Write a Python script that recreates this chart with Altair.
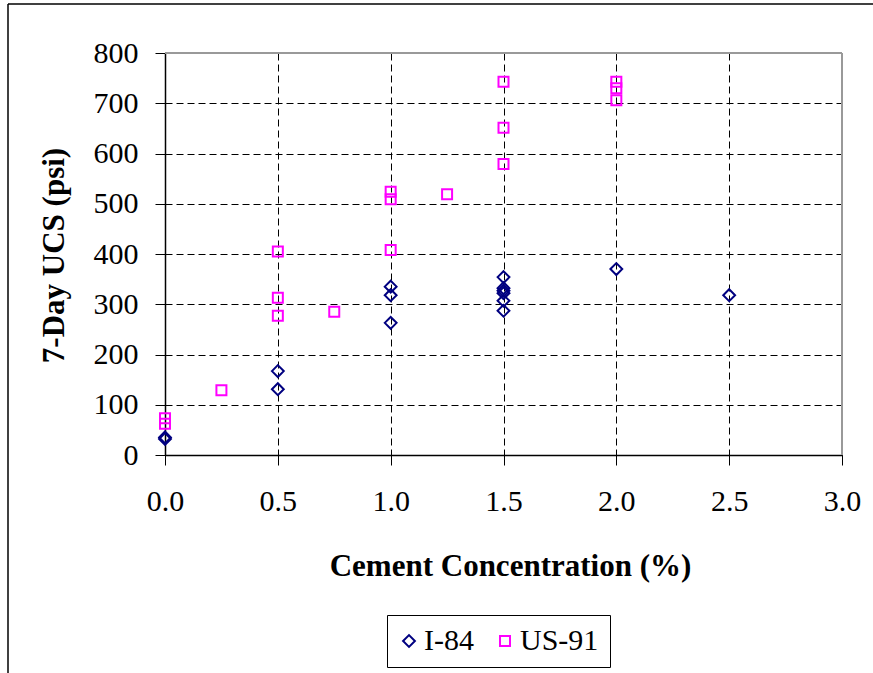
import altair as alt
import pandas as pd

# ---- data ----
i84_x = [0.0, 0.0, 0.5, 0.5, 1.0, 1.0, 1.0, 1.5, 1.5, 1.5, 1.5, 1.5, 1.5, 2.0, 2.5]
i84_y = [35, 32, 167, 131, 335, 318, 263, 354, 332, 327, 322, 307, 287, 370, 318]
us91_x = [0.0, 0.0, 0.25, 0.5, 0.5, 0.5, 0.75, 1.0, 1.0, 1.0, 1.25, 1.5, 1.5, 1.5, 2.0, 2.0, 2.0]
us91_y = [73, 62, 129, 405, 313, 277, 285, 524, 509, 408, 519, 743, 651, 579, 743, 730, 706]
series = ["I-84", "US-91"]
x_ticks = [0.0, 0.5, 1.0, 1.5, 2.0, 2.5, 3.0]
y_ticks = [0, 100, 200, 300, 400, 500, 600, 700, 800]

df = pd.concat([
    pd.DataFrame({"cement": i84_x, "ucs": i84_y, "site": series[0]}),
    pd.DataFrame({"cement": us91_x, "ucs": us91_y, "site": series[1]}),
])

W, H = 677, 402
FONT = "Liberation Serif"

leg = dict(title=None, orient="none", legendX=222, legendY=562,
           direction="horizontal", strokeColor="black", fillColor="white",
           padding=11, symbolOffset=-4, labelOffset=0, columnPadding=20,
           symbolStrokeWidth=2, symbolSize=90)

points = alt.Chart(df).mark_point(filled=False, strokeWidth=2, opacity=1).encode(
    x=alt.X("cement:Q",
            scale=alt.Scale(domain=[0, 3], nice=False, zero=False),
            axis=alt.Axis(values=x_ticks, format=".1f", title="Cement Concentration (%)",
                          titleX=345, titleY=120, titleAlign="center", titleBaseline="alphabetic",
                          labelPadding=21, tickSize=10, labelFlush=False)),
    y=alt.Y("ucs:Q",
            scale=alt.Scale(domain=[0, 800], nice=False),
            axis=alt.Axis(values=y_ticks, format="d", title="7-Day UCS (psi)",
                          titleX=-102, titleY=202, titleAngle=-90, titleAlign="center",
                          titleBaseline="alphabetic", labelPadding=17, tickSize=10,
                          labelFlush=False)),
    color=alt.Color("site:N", scale=alt.Scale(domain=series, range=["#000080", "#FF00FF"]),
                    legend=alt.Legend(**leg)),
    shape=alt.Shape("site:N", scale=alt.Scale(domain=series, range=["diamond", "square"]),
                    legend=alt.Legend(**leg)),
    size=alt.Size("site:N", scale=alt.Scale(domain=series, range=[140, 100]), legend=None),
)

one = alt.Data(values=[{}])
frame_top = alt.Chart(one).mark_rule(color="#999999", strokeWidth=2).encode(
    x=alt.value(0), x2=alt.value(W), y=alt.value(0))
frame_right = alt.Chart(one).mark_rule(color="#999999", strokeWidth=2).encode(
    x=alt.value(W), y=alt.value(0), y2=alt.value(H))
outer_left = alt.Chart(one).mark_rule(color="black", strokeWidth=1.5).encode(
    x=alt.value(-157), y=alt.value(-49), y2=alt.value(700))
outer_top = alt.Chart(one).mark_rule(color="black", strokeWidth=1.5).encode(
    x=alt.value(-157), x2=alt.value(760), y=alt.value(-49))

chart = alt.layer(frame_top, frame_right, points, outer_left, outer_top).properties(
    width=W, height=H,
    autosize="none",
    padding={"left": 165, "top": 53, "right": 31, "bottom": 218},
    background="white",
).configure_view(stroke="transparent").configure_axis(
    labelFont=FONT, labelFontSize=30, labelColor="black",
    titleFont=FONT, titleFontSize=31, titleFontWeight="bold", titleColor="black",
    domainColor="black", domainWidth=1.5, tickColor="black", tickWidth=1,
    gridColor="black", gridDash=[7, 4], gridWidth=1, gridOpacity=1,
).configure_legend(
    labelFont=FONT, labelFontSize=30, labelColor="black",
)

chart.save("out.html", embed_options={"renderer": "svg", "actions": False})
